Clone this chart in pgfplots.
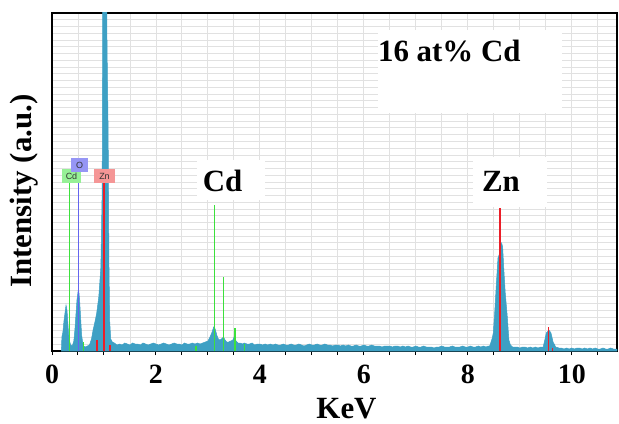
\documentclass[border=0pt]{standalone}
\usepackage{pgfplots}
\pgfplotsset{compat=1.18}
\usepackage{fontspec}
\setmainfont{Liberation Serif}
\newfontfamily\labfont{Liberation Sans}
\definecolor{spec}{RGB}{62,160,196}
\definecolor{cdg}{RGB}{60,225,60}
\definecolor{ob}{RGB}{100,100,240}
\definecolor{znr}{RGB}{235,30,40}
\definecolor{cdbox}{RGB}{150,240,150}
\definecolor{obox}{RGB}{150,150,245}
\definecolor{znbox}{RGB}{245,150,150}
\definecolor{gridc}{RGB}{225,225,225}
\begin{document}
\begin{tikzpicture}
\begin{axis}[
 at={(0,0)}, anchor=south west,
 scale only axis, width=565bp, height=338bp,
 xmin=0, xmax=10.87, ymin=0, ymax=338,
 xtick={0,2,...,10}, minor xtick={0.5,1,...,10.5},
 ytick distance=6.76, yticklabels={}, ytick style={draw=none},
 xtick pos=bottom, tick align=outside,
 major tick length=4bp, minor tick length=4bp,
 x tick style={black, line width=1pt},
 grid=both, major grid style={gridc, line width=0.9pt}, minor grid style={gridc, line width=0.9pt},
 axis line style={black, line width=1.8pt},
 xticklabel style={font=\bfseries\fontsize{28}{28}\selectfont, inner sep=0pt, anchor=north, yshift=-10bp},
 /pgf/number format/assume math mode=true,
 xlabel={KeV}, ylabel={Intensity (a.u.)},
 label style={font=\bfseries\fontsize{31}{31}\selectfont, inner sep=0pt},
 xlabel style={at={(axis description cs:0.5,0)}, anchor=north, yshift=-47bp, xshift=12bp},
 ylabel style={at={(axis description cs:-0.049,0.473)}, anchor=center},
]
\addplot[fill=spec, draw=spec, line width=0.5pt] coordinates {
(0.18,0) (0.19,14) (0.21,19) (0.23,30) (0.25,38) (0.27,46) (0.29,40) (0.31,24) (0.33,11) (0.36,6) (0.39,5)
(0.42,10) (0.44,21) (0.46,36) (0.48,51) (0.51,63) (0.53,52) (0.55,34) (0.57,16) (0.60,5) (0.64,4) (0.68,5)
(0.72,6) (0.76,12) (0.79,21) (0.83,30) (0.86,38) (0.90,54) (0.94,84) (0.965,160) (0.98,420) (1.04,420)
(1.06,300) (1.08,220) (1.095,90) (1.11,30) (1.13,12) (1.16,9) (1.20,8)
(1.25,6) (1.30,7) (1.35,6) (1.40,8) (1.45,7) (1.50,6) (1.55,8) (1.60,7) (1.65,7) (1.70,6) (1.75,8) (1.80,7)
(1.85,6) (1.90,7) (1.95,8) (2.00,7) (2.05,6) (2.10,7) (2.15,8) (2.20,7) (2.25,6) (2.30,7) (2.35,8) (2.40,7)
(2.45,7) (2.50,6) (2.55,8) (2.60,7) (2.65,7) (2.70,8) (2.75,7) (2.80,8) (2.85,7) (2.90,8) (2.95,9) (3.00,10)
(3.04,14) (3.08,19) (3.11,24) (3.14,22) (3.17,16) (3.20,12) (3.23,11) (3.26,12) (3.30,14) (3.33,11) (3.36,9)
(3.40,9) (3.44,10) (3.48,11) (3.51,15) (3.54,10) (3.58,8) (3.62,8) (3.66,7) (3.70,8) (3.75,7) (3.80,7)
(3.85,8) (3.90,6) (3.95,7) (4.00,7) (4.05,6) (4.10,7) (4.15,6) (4.20,7) (4.25,6) (4.30,7) (4.35,6) (4.40,6)
(4.45,7) (4.50,6) (4.55,6) (4.60,7) (4.65,6) (4.70,6) (4.75,7) (4.80,6) (4.85,5) (4.90,6) (4.95,7) (5.00,6)
(5.05,6) (5.10,7) (5.15,6) (5.20,6) (5.25,7) (5.30,6) (5.35,6) (5.40,5) (5.45,6) (5.50,6) (5.55,5) (5.60,6)
(5.65,5) (5.70,6) (5.75,5) (5.80,5) (5.85,6) (5.90,5) (5.95,5) (6.00,6) (6.05,5) (6.10,5) (6.15,6) (6.20,5)
(6.25,5) (6.30,5) (6.35,4) (6.40,5) (6.45,5) (6.50,5) (6.55,4) (6.60,5) (6.65,5) (6.70,4) (6.75,5) (6.80,4)
(6.85,5) (6.90,4) (6.95,4) (7.00,5) (7.05,4) (7.10,4) (7.15,5) (7.20,4) (7.25,4) (7.30,4) (7.35,3) (7.40,4)
(7.45,4) (7.50,5) (7.55,4) (7.60,4) (7.65,4) (7.70,5) (7.75,4) (7.80,4) (7.85,4) (7.90,5) (7.95,4) (8.00,4)
(8.05,5) (8.10,4) (8.15,4) (8.20,5) (8.25,4) (8.30,5) (8.35,4) (8.39,5) (8.42,5) (8.44,8) (8.47,13) (8.49,18)
(8.52,41) (8.55,68) (8.58,93) (8.615,98) (8.65,108) (8.67,104) (8.69,84) (8.72,58) (8.76,34) (8.79,11)
(8.82,6) (8.86,4) (8.90,4) (8.95,4) (9.00,3) (9.05,4) (9.10,4) (9.15,3) (9.20,4) (9.25,3) (9.30,4) (9.35,3)
(9.40,4) (9.45,4) (9.48,11) (9.51,18) (9.56,21) (9.60,18) (9.64,9) (9.69,4) (9.75,3) (9.80,3) (9.85,2)
(9.90,3) (9.95,2) (10.00,3) (10.05,2) (10.10,3) (10.15,3) (10.20,2) (10.25,3) (10.30,2) (10.35,3) (10.40,2)
(10.45,3) (10.50,2) (10.55,2) (10.60,3) (10.65,2) (10.70,2) (10.75,3) (10.80,2) (10.87,2)
} \closedcycle;
\addplot[ycomb, cdg, line width=1.3pt] coordinates {(0.33,168) (0.60,9) (2.77,5) (3.13,146) (3.30,74) (3.52,23) (3.71,7)};
\addplot[ycomb, ob, line width=1.3pt] coordinates {(0.51,179)};
\addplot[ycomb, znr, line width=1.5pt] coordinates {(0.87,11) (1.00,168) (1.12,6) (8.615,143) (9.55,24) (9.63,3)};
\fill[white] (axis cs:6.27,238) rectangle (axis cs:9.81,321);
\fill[white] (axis cs:2.79,151) rectangle (axis cs:4.10,191);
\fill[white] (axis cs:8.10,144) rectangle (axis cs:9.52,194);
\node[anchor=base west, inner sep=0pt, font=\bfseries\fontsize{31}{31}\selectfont] at (axis cs:6.27,289) {16 at\% Cd};
\node[anchor=base west, inner sep=0pt, font=\bfseries\fontsize{31}{31}\selectfont] at (axis cs:2.90,159) {Cd};
\node[anchor=base west, inner sep=0pt, font=\bfseries\fontsize{31}{31}\selectfont] at (axis cs:8.27,159) {Zn};
\node[fill=cdbox, font=\labfont\fontsize{9}{9}\selectfont, inner sep=1pt, minimum width=19bp, minimum height=14bp, text=black!80] at (axis cs:0.375,175) {Cd};
\node[fill=obox, font=\labfont\fontsize{9}{9}\selectfont, inner sep=1pt, minimum width=17bp, minimum height=14bp, text=black!80] at (axis cs:0.53,186) {O};
\node[fill=znbox, font=\labfont\fontsize{9}{9}\selectfont, inner sep=1pt, minimum width=21bp, minimum height=14bp, text=black!80] at (axis cs:1.01,175) {Zn};
\end{axis}
\pgfresetboundingbox
\path[use as bounding box] (-52bp,-73bp) rectangle (567bp,351bp);
\end{tikzpicture}
\end{document}
